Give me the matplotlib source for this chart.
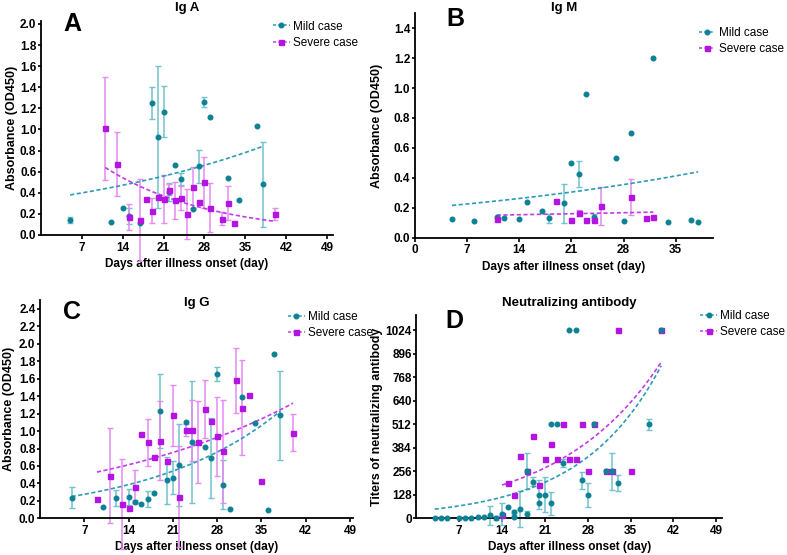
import numpy as np
import matplotlib
matplotlib.use('Agg')
import matplotlib.pyplot as plt
from matplotlib.lines import Line2D

plt.rcParams['font.family'] = ['Liberation Sans', 'DejaVu Sans']

# cores
MILD_PT = '#0f8194'
MILD_BAR = '#72c2cc'
MILD_FIT = '#2b9cb4'
SEV_PT = '#b414e2'
SEV_BAR = '#e48cf2'
SEV_FIT = '#c23aee'

# ---- Ig A ----
a_mild_days = [5, 12, 14, 15, 17, 19, 20, 21, 22, 23, 24, 26, 27, 28, 29, 32, 34, 37, 38]
a_mild_vals = [0.14, 0.12, 0.26, 0.18, 0.11, 1.25, 0.93, 1.17, 0.41, 0.66, 0.53, 0.25, 0.65, 1.26, 1.12, 0.54, 0.33, 1.03, 0.48]
a_mild_errs = [0.03, 0, 0, 0.08, 0, 0.15, 0.67, 0.24, 0.085, 0, 0.06, 0, 0.155, 0.045, 0, 0, 0, 0, 0.40]
a_sev_days = [11, 13, 15, 17, 18, 19, 20, 21, 22, 23, 24, 25, 26, 27, 28, 29, 31, 32, 33, 40]
a_sev_vals = [1.01, 0.67, 0.17, 0.14, 0.34, 0.23, 0.36, 0.34, 0.43, 0.33, 0.35, 0.20, 0.45, 0.31, 0.50, 0.26, 0.155, 0.30, 0.11, 0.20]
a_sev_errs = [0.485, 0.305, 0.12, 0.39, 0, 0.12, 0, 0.225, 0.05, 0.175, 0.11, 0.24, 0.19, 0, 0.24, 0.23, 0.06, 0.16, 0, 0.06]
a_mild_fit = (5, 38, 0.38, 0.84)
a_sev_fit = (11, 40, 0.64, 0.13)

# ---- Ig M ----
b_mild_days = [5, 8, 11, 12, 14, 15, 17, 18, 20, 21, 22, 23, 24, 27, 28, 29, 32, 34, 37, 38]
b_mild_vals = [0.125, 0.11, 0.14, 0.13, 0.125, 0.236, 0.18, 0.13, 0.23, 0.50, 0.425, 0.96, 0.14, 0.53, 0.11, 0.70, 1.20, 0.105, 0.12, 0.107]
b_mild_errs = [0, 0, 0, 0, 0, 0, 0, 0.03, 0.13, 0, 0.085, 0, 0.02, 0, 0, 0, 0, 0, 0, 0]
b_sev_days = [11, 19, 21, 22, 23, 24, 25, 29, 31, 32]
b_sev_vals = [0.125, 0.245, 0.12, 0.165, 0.12, 0.12, 0.21, 0.27, 0.13, 0.14]
b_sev_errs = [0, 0, 0, 0.02, 0, 0, 0.125, 0.12, 0, 0]
b_mild_fit = (5, 38, 0.215, 0.44)
b_sev_fit = (11, 32, 0.15, 0.17)

# ---- Ig G ----
c_mild_days = [5, 10, 12, 14, 15, 16, 17, 18, 19, 20, 21, 22, 23, 24, 26, 27, 28, 29, 30, 32, 34, 36, 37, 38]
c_mild_vals = [0.236, 0.13, 0.23, 0.245, 0.19, 0.16, 0.22, 0.29, 1.23, 0.435, 0.465, 0.61, 1.10, 0.87, 0.82, 0.69, 1.65, 0.385, 0.105, 1.39, 1.09, 0.10, 1.88, 1.18]
c_mild_errs = [0.12, 0, 0.09, 0.09, 0.02, 0, 0.095, 0, 0.42, 0.27, 0.19, 0.47, 0, 0.70, 0, 0.46, 0.08, 0.28, 0, 0, 0, 0, 0, 0.51]
c_sev_days = [9, 11, 13, 14, 15, 16, 17, 18, 19, 20, 21, 22, 23, 24, 25, 26, 27, 28, 29, 31, 32, 33, 35, 40]
c_sev_vals = [0.22, 0.49, 0.165, 0.12, 0.36, 0.97, 0.87, 0.70, 0.89, 0.66, 1.18, 0.25, 1.01, 1.01, 0.87, 1.25, 1.11, 0.94, 0.77, 1.58, 1.27, 1.41, 0.43, 0.98]
c_sev_errs = [0, 0.54, 0.52, 0, 0.19, 0, 0.27, 0, 0.45, 0, 0.35, 0.58, 0.07, 0.35, 0.47, 0.33, 0, 0.45, 0.59, 0.375, 0.54, 0, 0, 0.21]
c_mild_fit = (5, 38, 0.25, 1.23)
c_sev_fit = (9, 40, 0.53, 1.32)

# ---- Neutralizing antibody ----
d_mild_days = [3, 4, 5, 7, 8, 9, 10, 11, 12, 13, 14, 15, 16, 16, 17, 18, 18, 19, 20, 20, 21, 22, 22, 23, 24, 25, 26, 27, 28, 29, 31, 32, 33, 38, 40]
d_mild_vals = [0, 0, 0, 0, 0, 0, 8, 8, 16, 2, 22, 63, 32, 8, 49, 22, 256, 200, 128, 85, 128, 82, 512, 512, 300, 1024, 1024, 208, 128, 512, 256, 256, 194, 512, 1024]
d_mild_errs = [0, 0, 0, 0, 0, 0, 0, 0, 50, 12, 60, 0, 12, 0, 97, 20, 98, 25, 80, 0, 96, 62, 0, 0, 20, 0, 0, 46, 65, 0, 0, 100, 43, 30, 0]
d_sev_days = [14, 15, 16, 17, 18, 19, 20, 21, 22, 23, 24, 25, 26, 27, 28, 29, 31, 32, 33, 35, 40]
d_sev_vals = [20, 192, 128, 340, 256, 448, 180, 320, 405, 320, 512, 320, 320, 512, 256, 512, 256, 256, 1024, 256, 1024]
d_sev_errs = [0] * len(d_sev_days)
d_mild_fit = (3, 40, 50, 830)
d_sev_fit = (14, 40, 181, 850)


def curva(fit):
    # curva exponencial entre os dois extremos
    x0, x1, y0, y1 = fit
    x = np.linspace(x0, x1, 100)
    return x, y0 * (y1 / y0) ** ((x - x0) / (x1 - x0))


def desenha(ax, days, vals, errs, pt, bar, fitc, fit, marker, ms):
    days = np.array(days, float)
    vals = np.array(vals, float)
    errs = np.array(errs, float)
    m = errs > 0
    ax.errorbar(days[m], vals[m], yerr=errs[m], fmt='none', ecolor=bar,
                elinewidth=1.1, capsize=2, capthick=1.0, clip_on=False, zorder=2)
    x, y = curva(fit)
    ax.plot(x, y, color=fitc, lw=1.2, ls=(0, (2.5, 1.5)), zorder=3)
    ax.plot(days, vals, ls='none', marker=marker, ms=ms, color=pt,
            mec=pt, clip_on=False, zorder=4)


def estilo(ax, xlim, ylim, xticks, yticks, ylabel, ylab_x, titulo, title_y, letra, letra_pos, legpos):
    ax.set_xlim(*xlim)
    ax.set_ylim(*ylim)
    ax.set_xticks(xticks)
    ax.set_yticks(yticks)
    for s in ['top', 'right']:
        ax.spines[s].set_visible(False)
    for s in ['left', 'bottom']:
        ax.spines[s].set_linewidth(1.3)
    ax.tick_params(axis='x', width=1.2, length=3, labelsize=8.5, pad=2)
    ax.tick_params(axis='y', width=1.2, length=2.5, labelsize=8.5, pad=0.8)
    for lb in ax.get_xticklabels() + ax.get_yticklabels():
        lb.set_fontweight('bold')
    ax.set_xlabel('Days after illness onset (day)', fontsize=8.5, fontweight='bold', labelpad=3)
    ax.set_ylabel(ylabel, fontsize=9, fontweight='bold')
    ax.yaxis.set_label_coords(ylab_x, 0.5)
    pos = ax.get_position()
    fig.text((pos.x0 + pos.x1) / 2, title_y, titulo, fontsize=9.5,
             fontweight='bold', ha='center', va='top')
    fig.text(letra_pos[0], letra_pos[1], letra, fontsize=18,
             fontweight='bold', va='top', ha='left')
    handles = [
        Line2D([], [], color=MILD_FIT, ls=(0, (2, 1.5)), lw=1.1, marker='o', ms=3.3,
               mfc=MILD_PT, mec=MILD_PT),
        Line2D([], [], color=SEV_FIT, ls=(0, (2, 1.5)), lw=1.1, marker='s', ms=3.6,
               mfc=SEV_PT, mec=SEV_PT),
    ]
    ax.legend(handles, ['Mild case', 'Severe case'], loc='upper left',
              bbox_to_anchor=legpos, bbox_transform=fig.transFigure, frameon=False,
              fontsize=8.5, handlelength=1.4, handletextpad=0.3, labelspacing=0.35,
              borderpad=0, borderaxespad=0)


fig = plt.figure(figsize=(7.87, 5.55), dpi=100)

axA = fig.add_axes([0.052, 0.5766, 0.371, 0.386])
desenha(axA, a_mild_days, a_mild_vals, a_mild_errs, MILD_PT, MILD_BAR, MILD_FIT, a_mild_fit, 'o', 3.3)
desenha(axA, a_sev_days, a_sev_vals, a_sev_errs, SEV_PT, SEV_BAR, SEV_FIT, a_sev_fit, 's', 3.6)
estilo(axA, (0, 50), (0, 2.03), range(7, 50, 7), np.arange(0, 2.01, 0.2),
       'Absorbance (OD450)', -0.079, 'Ig A', 0.997, 'A', (0.080, 0.978), (0.347, 0.963))
axA.set_yticklabels([f'{v:.1f}' for v in np.arange(0, 2.01, 0.2)], fontweight='bold')

axB = fig.add_axes([0.527, 0.572, 0.379, 0.404])
desenha(axB, b_mild_days, b_mild_vals, b_mild_errs, MILD_PT, MILD_BAR, MILD_FIT, b_mild_fit, 'o', 3.3)
desenha(axB, b_sev_days, b_sev_vals, b_sev_errs, SEV_PT, SEV_BAR, SEV_FIT, b_sev_fit, 's', 3.6)
estilo(axB, (0, 40), (0, 1.5), range(0, 36, 7), np.arange(0, 1.41, 0.2),
       'Absorbance (OD450)', -0.107, 'Ig M', 0.997, 'B', (0.567, 0.987), (0.888, 0.952))
axB.set_yticklabels([f'{v:.1f}' for v in np.arange(0, 1.41, 0.2)], fontweight='bold')

axC = fig.add_axes([0.0508, 0.0661, 0.398, 0.393])
desenha(axC, c_mild_days, c_mild_vals, c_mild_errs, MILD_PT, MILD_BAR, MILD_FIT, c_mild_fit, 'o', 3.3)
desenha(axC, c_sev_days, c_sev_vals, c_sev_errs, SEV_PT, SEV_BAR, SEV_FIT, c_sev_fit, 's', 3.6)
estilo(axC, (0, 49.5), (0, 2.5), range(7, 50, 7), np.arange(0, 2.41, 0.2),
       'Absorbance (OD450)', -0.080, 'Ig G', 0.465, 'C', (0.080, 0.459), (0.366, 0.440))
axC.set_yticklabels([f'{v:.1f}' for v in np.arange(0, 2.41, 0.2)], fontweight='bold')

axD = fig.add_axes([0.529, 0.0661, 0.389, 0.366])
desenha(axD, d_sev_days, d_sev_vals, d_sev_errs, SEV_PT, SEV_BAR, SEV_FIT, d_sev_fit, 's', 3.6)
desenha(axD, d_mild_days, d_mild_vals, d_mild_errs, MILD_PT, MILD_BAR, MILD_FIT, d_mild_fit, 'o', 3.3)
estilo(axD, (0, 50), (0, 1105), range(7, 50, 7), range(0, 1025, 128),
       'Titers of neutralizing antibody', -0.108, 'Neutralizing antibody', 0.465, 'D',
       (0.566, 0.443), (0.890, 0.442))

fig.savefig('out.png', dpi=100)
